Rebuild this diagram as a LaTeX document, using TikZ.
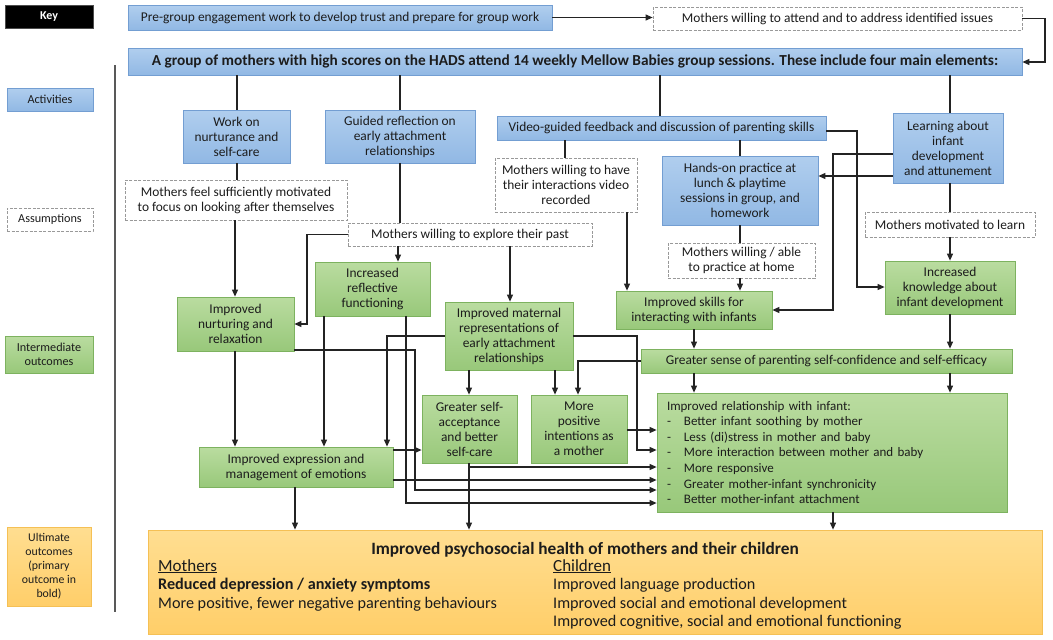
\documentclass[tikz,border=0pt]{standalone}
\usepackage{fontspec}
\setmainfont{Carlito}
\usetikzlibrary{arrows.meta}
\definecolor{actT}{RGB}{176,206,238}
\definecolor{actB}{RGB}{145,184,228}
\definecolor{actD}{RGB}{115,158,210}
\definecolor{outT}{RGB}{186,220,160}
\definecolor{outB}{RGB}{152,200,122}
\definecolor{outD}{RGB}{125,178,95}
\definecolor{ultT}{RGB}{255,222,145}
\definecolor{ultB}{RGB}{255,206,105}
\definecolor{ultD}{RGB}{245,192,85}
\definecolor{txt}{RGB}{28,28,28}
\definecolor{lnc}{RGB}{35,35,35}
\newcommand\bx[7]{%
\pgfmathsetmacro\bxcx{(#3+#5)/2}%
\pgfmathsetmacro\bxcy{(#4+#6)/2}%
\pgfmathsetmacro\bxw{#5-#3}%
\pgfmathsetmacro\bxh{#6-#4}%
\node[#1,minimum width=\bxw pt,minimum height=\bxh pt] (#2) at (\bxcx,\bxcy) {#7};}
\tikzset{
 basebox/.style={inner sep=1pt, align=center, text=txt, font=\fontsize{13.4}{15}\selectfont},
 actbox/.style={basebox, draw=actD, top color=actT, bottom color=actB, line width=0.8pt},
 asmbox/.style={basebox, draw=black!40, dash pattern=on 3pt off 1.5pt, fill=white, line width=0.7pt},
 outbox/.style={basebox, draw=outD, top color=outT, bottom color=outB, line width=0.8pt},
 ultbox/.style={draw=ultD, top color=ultT, bottom color=ultB, line width=0.8pt},
 keyfont/.style={font=\fontsize{12.2}{14}\selectfont},
 ln/.style={draw=lnc, line width=1.05pt},
 arr/.style={ln, -{Triangle[length=7pt,width=6pt]}},
}
\begin{document}
\begin{tikzpicture}[x=1pt,y=-1pt]
\useasboundingbox (0,0) rectangle (1053,640);
\fill[white] (0,0) rectangle (1053,640);
% key
\bx{basebox,fill=black,draw=black!70,text=white,font=\fontsize{12}{14}\selectfont\bfseries}{key}{5}{5}{93}{28}{Key}
\bx{actbox,keyfont}{kact}{7}{88}{93}{111}{Activities}
\bx{asmbox,keyfont}{kasm}{7}{208}{93}{231}{Assumptions}
\bx{outbox,keyfont}{kint}{5}{336}{93}{373}{Intermediate\\outcomes}
\bx{ultbox,basebox,font=\fontsize{11.8}{14}\selectfont}{kult}{7}{527}{91}{606}{Ultimate\\outcomes\\(primary\\outcome in\\bold)}
\coordinate (sepT) at (115,65);
\coordinate (sepB) at (115,612);
\draw[draw=black!65, line width=1.2pt] (sepT) -- (sepB);
% top
\bx{actbox}{pre}{128}{5}{552}{30}{Pre-group engagement work to develop trust and prepare for group work}
\bx{asmbox}{att}{653}{7}{1022}{30}{Mothers willing to attend and to address identified issues}
\bx{actbox,font=\fontsize{15.3}{17}\selectfont\bfseries}{main}{128}{48}{1022}{75}{A group of mothers with high scores on the HADS attend 14 weekly Mellow Babies group sessions. These include four main elements:}
% activities
\bx{actbox}{work}{183}{110}{290}{163}{Work on\\nurturance and\\self-care}
\bx{actbox}{guid}{325}{110}{475}{163}{Guided reflection on\\early attachment\\relationships}
\bx{actbox}{vid}{497}{116}{826}{140}{Video-guided feedback and discussion of parenting skills}
\bx{actbox}{learn}{893}{113}{1003}{183}{Learning about\\infant\\development\\and attunement}
\bx{actbox}{hands}{662}{156}{818}{225}{Hands-on practice at\\lunch \& playtime\\sessions in group, and\\homework}
% assumptions
\bx{asmbox}{a1}{125}{180}{347}{220}{Mothers feel sufficiently motivated\\to focus on looking after themselves}
\bx{asmbox}{a2}{495}{158}{637}{212}{Mothers willing to have\\their interactions video\\recorded}
\bx{asmbox}{a3}{348}{223}{592}{246}{Mothers willing to explore their past}
\bx{asmbox}{a4}{668}{243}{815}{278}{Mothers willing / able\\to practice at home}
\bx{asmbox}{a5}{865}{212}{1035}{237}{Mothers motivated to learn}
% intermediate outcomes
\bx{outbox}{g1}{177}{297}{294}{351}{Improved\\nurturing and\\relaxation}
\bx{outbox}{g2}{315}{262}{430}{316}{Increased\\reflective\\functioning}
\bx{outbox}{g3}{445}{302}{573}{370}{Improved maternal\\representations of\\early attachment\\relationships}
\bx{outbox}{g4}{616}{291}{772}{329}{Improved skills for\\interacting with infants}
\bx{outbox}{g5}{885}{261}{1015}{314}{Increased\\knowledge about\\infant development}
\bx{outbox}{g6}{641}{349}{1012}{373}{Greater sense of parenting self-confidence and self-efficacy}
\bx{outbox}{g7}{422}{395}{517}{463}{Greater self-\\acceptance\\and better\\self-care}
\bx{outbox}{g8}{531}{395}{627}{463}{More\\positive\\intentions as\\a mother}
\bx{outbox}{g9}{199}{447}{393}{487}{Improved expression and\\management of emotions}
\bx{outbox,align=left,text width=330pt,inner xsep=10pt,font=\fontsize{13}{15.6}\selectfont}{g10}{657}{393}{1007}{512}{Improved relationship with infant:\\
\makebox[17pt][l]{-}Better infant soothing by mother\\
\makebox[17pt][l]{-}Less (di)stress in mother and baby\\
\makebox[17pt][l]{-}More interaction between mother and baby\\
\makebox[17pt][l]{-}More responsive\\
\makebox[17pt][l]{-}Greater mother-infant synchronicity\\
\makebox[17pt][l]{-}Better mother-infant attachment}
% ultimate
\bx{ultbox}{ult}{148}{530}{1042}{634}{}
\node[anchor=base, text=txt, inner sep=0, font=\fontsize{17.3}{19}\selectfont\bfseries] (ultt) at (585,554) {Improved psychosocial health of mothers and their children};
\node[anchor=north west, align=left, text=txt, inner sep=0, font=\fontsize{16.2}{18.5}\selectfont] (ultm) at (158,559) {{\fontsize{17}{18.5}\selectfont\underline{Mothers}}\\\textbf{Reduced depression / anxiety symptoms}\\More positive, fewer negative parenting behaviours};
\node[anchor=north west, align=left, text=txt, inner sep=0, font=\fontsize{16.2}{18.5}\selectfont] (ultc) at (553,559) {{\fontsize{17}{18.5}\selectfont\underline{Children}}\\Improved language production\\Improved social and emotional development\\Improved cognitive, social and emotional functioning};
% connectors top
\draw[arr] (pre.east) -- (pre.east -| att.west);
\draw[arr] (att.east) -- (1045,18.5) |- (main.east |- 0,62);
\draw[ln] (main.south -| 237,0) -- (work.north -| 237,0);
\draw[ln] (main.south -| 400,0) -- (guid.north -| 400,0);
\draw[ln] (main.south -| 660,0) -- (vid.north -| 660,0);
\draw[ln] (main.south -| 950,0) -- (learn.north -| 950,0);
\draw[ln] (work.south -| 237,0) -- (a1.north -| 237,0);
\draw[arr] (a1.south -| 235,0) -- (g1.north -| 235,0);
\draw[ln] (guid.south -| 400,0) -- (a3.north -| 400,0);
\draw[arr] (a3.south -| 398,0) -- (g2.north -| 398,0);
\draw[arr] (a3.west) -| (307,324) -- (g1.east |- 0,324);
\draw[arr] (a3.south -| 510,0) -- (g3.north -| 510,0);
\draw[ln] (vid.south -| 565,0) -- (a2.north -| 565,0);
\draw[arr] (a2.south -| 627,0) -- (g4.north -| 627,0);
\draw[ln] (vid.south -| 740,0) -- (hands.north -| 740,0);
\draw[ln] (hands.south -| 740,0) -- (a4.north -| 740,0);
\draw[arr] (a4.south -| 740,0) -- (g4.north -| 740,0);
\draw[arr] (vid.east |- 0,131) -| (857,287) -- (g5.west |- 0,287);
\draw[arr] (learn.west |- 0,154) -| (833,310) -- (g4.east |- 0,310);
\draw[arr] (learn.west |- 0,176) -- (hands.east |- 0,176);
\draw[ln] (learn.south -| 950,0) -- (a5.north -| 950,0);
\draw[arr] (a5.south -| 950,0) -- (g5.north -| 950,0);
% middle
\draw[arr] (g4.south -| 694,0) -- (g6.north -| 694,0);
\draw[arr] (g5.south -| 950,0) -- (g6.north -| 950,0);
\draw[arr] (g6.south -| 694,0) -- (g10.north -| 694,0);
\draw[arr] (g6.south -| 950,0) -- (g10.north -| 950,0);
\draw[arr] (g6.west) -| (g8.north -| 578,0);
\draw[arr] (g3.south -| 469,0) -- (g7.north -| 469,0);
\draw[arr] (g3.south -| 555,0) -- (g8.north -| 555,0);
\draw[arr] (g3.west |- 0,336) -| (g9.north -| 387,0);
\draw[arr] (g3.east |- 0,336) -| (637,450) -- (g10.west |- 0,450);
\draw[arr] (g8.east |- 0,430) -- (g10.west |- 0,430);
\draw[arr] (g2.south -| 324,0) -- (g9.north -| 324,0);
\draw[arr] (g2.south -| 406,0) |- (g10.west |- 0,503);
\draw[arr] (g1.east |- 0,350) -| (415,490) -- (g10.west |- 0,490);
\draw[arr] (g1.south -| 235,0) -- (g9.north -| 235,0);
\draw[arr] (g9.east |- 0,450) -- (g7.west |- 0,450);
\draw[arr] (g9.east |- 0,480) -- (g10.west |- 0,480);
\draw[arr] (g7.south -| 469,0) |- (g10.west |- 0,467);
% to ultimate
\draw[arr] (g7.south -| 469,0) -- (ult.north -| 469,0);
\draw[arr] (g9.south -| 295,0) -- (ult.north -| 295,0);
\draw[arr] (g10.south -| 833,0) -- (ult.north -| 833,0);
\end{tikzpicture}
\end{document}
